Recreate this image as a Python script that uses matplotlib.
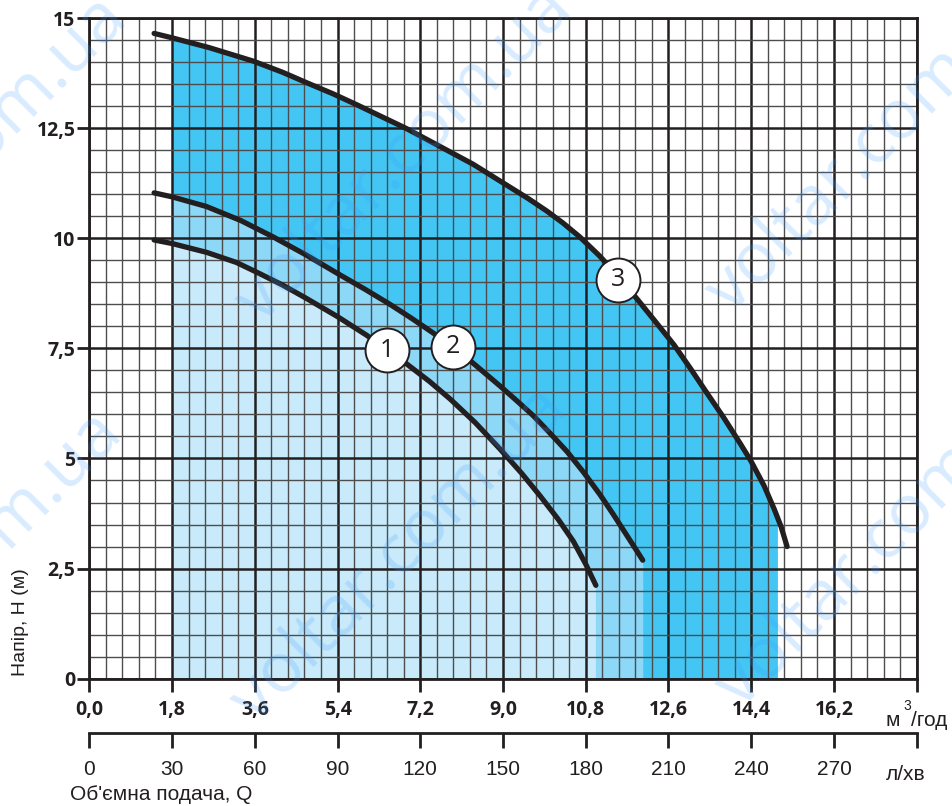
import numpy as np
import matplotlib
matplotlib.use("Agg")
import matplotlib.pyplot as plt

# ---------------- data ----------------
# curve 1
q1 = [1.41, 1.8, 2.55, 3.2, 3.64, 4.2, 4.73, 5.4, 6.03, 6.5, 6.9, 7.4, 7.85, 8.4, 8.93,
      9.4, 9.8, 10.2, 10.53, 10.8, 11.02]
h1 = [9.96, 9.88, 9.68, 9.45, 9.23, 8.94, 8.63, 8.22, 7.80, 7.46, 7.15, 6.75, 6.35, 5.81, 5.22,
      4.67, 4.16, 3.62, 3.12, 2.60, 2.12]
# curve 2
q2 = [1.41, 1.8, 2.55, 3.3, 4.0, 4.7, 5.45, 6.0, 6.54, 7.0, 7.48, 7.92, 8.32, 8.93, 9.3,
      9.66, 10.0, 10.39, 10.75, 11.11, 11.4, 11.69, 11.9, 12.04]
h2 = [11.03, 10.94, 10.72, 10.40, 10.03, 9.63, 9.17, 8.84, 8.50, 8.19, 7.85, 7.52, 7.19, 6.65, 6.31,
      5.97, 5.60, 5.16, 4.69, 4.18, 3.73, 3.26, 2.92, 2.69]
# curve 3
q3 = [1.41, 1.8, 2.6, 3.57, 4.2, 4.73, 5.3, 5.82, 6.4, 6.9, 7.6, 8.35, 8.75, 9.15, 9.55,
      9.95, 10.3, 10.67, 11.1, 11.51, 11.91, 12.29, 12.72, 13.08, 13.44, 13.80, 14.16,
      14.39, 14.68, 14.90, 15.05, 15.18]
h3 = [14.65, 14.55, 14.33, 14.02, 13.77, 13.53, 13.28, 13.03, 12.74, 12.49, 12.10, 11.68, 11.42, 11.16, 10.90,
      10.62, 10.35, 10.03, 9.60, 9.13, 8.63, 8.14, 7.58, 7.04, 6.48, 5.93, 5.34,
      4.95, 4.38, 3.85, 3.45, 3.00]

# shaded working ranges (start, end) in m3/h
fill_start = 1.8
fill_end = [11.01, 12.04, 14.97]

curve_names = ["1", "2", "3"]
label_q = [6.47, 7.92, 11.51]
label_h = [7.46, 7.54, 9.06]

x_ticks = [0.0, 1.8, 3.6, 5.4, 7.2, 9.0, 10.8, 12.6, 14.4, 16.2, 18.0]
x_ticklabels = ["0,0", "1,8", "3,6", "5,4", "7,2", "9,0", "10,8", "12,6", "14,4", "16,2", ""]
y_ticks = [0, 2.5, 5, 7.5, 10, 12.5, 15]
y_ticklabels = ["0", "2,5", "5", "7,5", "10", "12,5", "15"]
l_ticks = [0, 30, 60, 90, 120, 150, 180, 210, 240, 270, 300]
l_ticklabels = ["0", "30", "60", "90", "120", "150", "180", "210", "240", "270", ""]

# ---------------- style ----------------
INK = "#231f20"
fills = ["#c8eafb", "#8dd7f7", "#43c6f4"]

fig = plt.figure(figsize=(9.53, 8.06), dpi=100)
W, H = 953, 806
L, R, T, B = 89.3, 916.7, 18.0, 678.7
ax = fig.add_axes([L / W, (H - B) / H, (R - L) / W, (B - T) / H])
ax.set_xlim(0, 18)
ax.set_ylim(0, 15)

# fills (dark first, lighter layered on top)
curves = [(q1, h1), (q2, h2), (q3, h3)]
for i in [2, 1, 0]:
    q, h = curves[i]
    q = np.asarray(q); h = np.asarray(h)
    inner = q[(q > fill_start) & (q < fill_end[i])]
    xs = np.concatenate([[fill_start], inner, [fill_end[i]]])
    ys = np.interp(xs, q, h)
    ax.fill_between(xs, 0, ys, color=fills[i], lw=0, zorder=1)

# grid
ax.set_axisbelow("line")
ax.set_xticks(x_ticks)
ax.set_xticks(np.arange(0, 18.01, 0.36), minor=True)
ax.set_yticks(y_ticks)
ax.set_yticks(np.arange(0, 15.01, 0.5), minor=True)
ax.grid(which="minor", color="#4d4d4d", lw=1.0)
ax.grid(which="major", color=INK, lw=1.8)

for s in ax.spines.values():
    s.set_linewidth(2.0)
    s.set_color(INK)
    s.set_zorder(6)

tick_font = dict(family="Open Sans", weight="bold", size=14)
ax.set_xticklabels(x_ticklabels, fontdict=tick_font, color=INK)
ax.set_yticklabels(y_ticklabels, fontdict=tick_font, color=INK)
ax.tick_params(which="major", direction="out", length=9, width=2, color=INK)
ax.tick_params(axis="x", which="major", pad=6)
ax.tick_params(axis="y", which="major", pad=1)
ax.tick_params(which="minor", length=0)

# curves
for q, h in curves:
    ax.plot(q, h, color=INK, lw=3.8, solid_capstyle="round", solid_joinstyle="round", zorder=3)

# circle labels
ax.scatter(label_q, label_h, s=1000, facecolor="white", edgecolor=INK, lw=1.4, zorder=4)
for x, y, t in zip(label_q, label_h, curve_names):
    ax.text(x, y, t, ha="center", va="center", family="Open Sans", fontsize=18,
            color=INK, zorder=5)

# secondary axis in l/min
sec = ax.secondary_xaxis(-(733.3 - B) / (B - T),
                         functions=(lambda q: q * 1000 / 60, lambda l: l * 60 / 1000))
sec.set_xticks(l_ticks)
sec.set_xticklabels(l_ticklabels, family="Liberation Sans", fontsize=15, color=INK)
sec.tick_params(direction="out", length=11, width=2, color=INK, pad=8)
sec.spines["bottom"].set_linewidth(2.0)
sec.spines["bottom"].set_color(INK)

# unit and axis labels
fig.text(886 / W, (H - 720) / H, "м", family="Liberation Sans", fontsize=15, color=INK,
         ha="left", va="center")
fig.text(903 / W, (H - 706) / H, "3", family="Liberation Sans", fontsize=10, color=INK,
         ha="left", va="center")
fig.text(911 / W, (H - 720) / H, "/год", family="Liberation Sans", fontsize=15, color=INK,
         ha="left", va="center")
fig.text(886 / W, (H - 775) / H, "л/хв", family="Liberation Sans", fontsize=15, color=INK,
         ha="left", va="center")
fig.text(21 / W, (H - 622) / H, "Напір, H (м)", family="Liberation Sans", fontsize=14,
         color=INK, rotation=90, ha="center", va="center")
fig.text(70 / W, (H - 795) / H, "Об'ємна подача, Q", family="Liberation Sans", fontsize=15,
         color=INK, ha="left", va="center")

# watermark
wm = "voltar.com.ua"
for cx, cy in [(405, 155), (400, 555), (875, 145), (885, 540), (-40, 165), (-45, 580)]:
    fig.text(cx / W, (H - cy) / H, wm, family="Open Sans", fontsize=50, color="#3d9bff",
             alpha=0.2, rotation=45, ha="center", va="center", rotation_mode="anchor",
             zorder=10)

fig.savefig("out.png", dpi=100)
